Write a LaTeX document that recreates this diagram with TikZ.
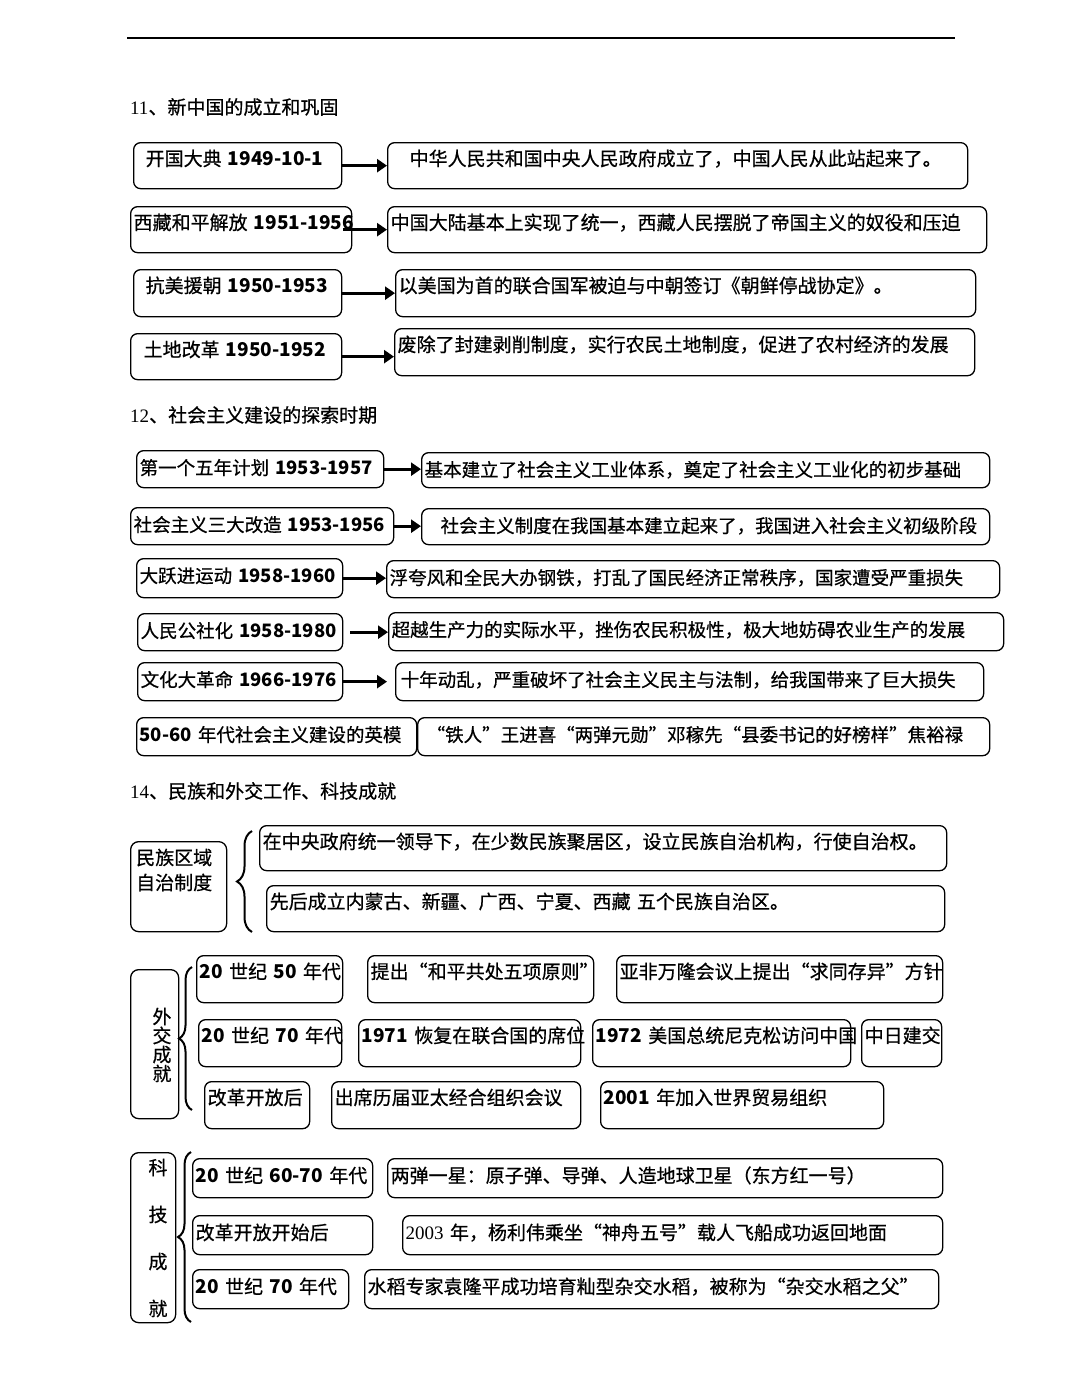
\documentclass[tikz,border=0pt]{standalone}
\usepackage{fontspec}
\setmainfont{Noto Sans CJK SC}[UprightFeatures={FakeBold=0.6}]
\newfontfamily\serifnum{Liberation Serif}
\usetikzlibrary{arrows.meta,decorations.pathreplacing}

\begin{document}
\begin{tikzpicture}[x=1pt,y=-1pt,
box/.style={draw,line width=1.3pt,rounded corners=7pt,anchor=north west,align=left,inner xsep=3pt,inner ysep=0pt,text height=23pt,font=\fontsize{19}{23}\selectfont},
sbox/.style={box,text height=24pt,font=\fontsize{18.5}{22}\selectfont},
sz/.style 2 args={text width=#1pt,text depth=#2pt},
cat/.style={draw,line width=1.3pt,rounded corners=8pt,anchor=north west,inner sep=0pt},
cattext/.style={align=left,inner sep=0pt},
head/.style={anchor=west,inner sep=0pt,font=\fontsize{19}{23}\selectfont},
arr/.style={-{Triangle[length=10pt,width=13pt]},line width=3.3pt},
brc/.style={decorate,decoration={brace,amplitude=#1pt},line width=2pt}
]
\fill[white] (0,0) rectangle (1080,1385);
\useasboundingbox (0,0) rectangle (1080,1385);

\coordinate (rl) at (127,38);
\coordinate (rr) at (955,38);
\draw[line width=1.4pt] (rl) -- (rr);

% 11
\node[head] (h11) at (130,107) {{\serifnum 11}、新中国的成立和巩固};
\node[box,sz={202}{23}] (a1) at (133,142) {\hspace*{9pt}开国大典~\textbf{1949-10-1}};
\node[box,sz={574}{23}] (b1) at (387,142) {\hspace*{19pt}中华人民共和国中央人民政府成立了，中国人民从此站起来了。};
\node[box,sz={215}{23}] (a2) at (130,206) {\mbox{西藏和平解放~\textbf{1951-1956}}};
\node[box,sz={593}{23}] (b2) at (387,206) {中国大陆基本上实现了统一，西藏人民摆脱了帝国主义的奴役和压迫};
\node[box,sz={202}{24}] (a3) at (133,269) {\hspace*{9pt}抗美援朝~\textbf{1950-1953}};
\node[box,sz={574}{24}] (b3) at (395,269) {以美国为首的联合国军被迫与中朝签订《朝鲜停战协定》。};
\node[box,sz={205}{23}] (a4) at (130,333) {\hspace*{10pt}土地改革~\textbf{1950-1952}};
\node[box,sz={574}{24}] (b4) at (394,328) {废除了封建剥削制度，实行农民土地制度，促进了农村经济的发展};
\draw[arr] (a1.east) -- (a1.east -| b1.west);
\draw[arr] ([xshift=-9pt]a2.east) -- (a2.east -| b2.west);
\draw[arr] (a3.east) -- (a3.east -| b3.west);
\draw[arr] (a4.east) -- (a4.east -| b4.west);

% 12
\node[head] (h12) at (130,415) {{\serifnum 12}、社会主义建设的探索时期};
\node[sbox,sz={241}{13}] (c1) at (136,450) {第一个五年计划~\textbf{1953-1957}};
\node[sbox,sz={562}{11}] (d1) at (421,452) {基本建立了社会主义工业体系，奠定了社会主义工业化的初步基础};
\node[sbox,sz={257}{13}] (c2) at (130,507) {\mbox{社会主义三大改造~\textbf{1953-1956}}};
\node[sbox,sz={562}{12}] (d2) at (421,508) {\hspace*{16pt}社会主义制度在我国基本建立起来了，我国进入社会主义初级阶段};
\node[sbox,sz={200}{15}] (c3) at (136,558) {大跃进运动~\textbf{1958-1960}};
\node[sbox,sz={607}{13}] (d3) at (386,560) {浮夸风和全民大办钢铁，打乱了国民经济正常秩序，国家遭受严重损失};
\node[sbox,sz={199}{13}] (c4) at (137,613) {人民公社化~\textbf{1958-1980}};
\node[sbox,sz={609}{14}] (d4) at (388,612) {超越生产力的实际水平，挫伤农民积极性，极大地妨碍农业生产的发展};
\node[sbox,sz={199}{14}] (c5) at (137,662) {文化大革命~\textbf{1966-1976}};
\node[sbox,sz={582}{14}] (d5) at (395,662) {\hspace*{2pt}十年动乱，严重破坏了社会主义民主与法制，给我国带来了巨大损失};
\node[sbox,sz={274}{14}] (c6) at (136,717) {\textbf{50-60}~年代社会主义建设的英模};
\node[sbox,sz={566}{14}] (d6) at (417,717) {\hspace*{6pt}“铁人”王进喜“两弹元勋”邓稼先“县委书记的好榜样”焦裕禄};
\draw[arr] (c1.east) -- (c1.east -| d1.west);
\draw[arr] (c2.east) -- (c2.east -| d2.west);
\draw[arr] (c3.east) -- (c3.east -| d3.west);
\draw[arr] ([xshift=7pt]c4.east) -- (c4.east -| d4.west);
\draw[arr,shorten >=8pt] (c5.east) -- (c5.east -| d5.west);

% 14
\node[head] (h14) at (130,791) {{\serifnum 14}、民族和外交工作、科技成就};
\node[cat,minimum width=96pt,minimum height=90pt] (mz) at (130,841) {};
\node[cattext,anchor=west,font=\fontsize{19}{25}\selectfont] (mzt) at (136,870) {民族区域\\自治制度};
\node[box,sz={681}{22}] (mz1) at (259,825) {在中央政府统一领导下，在少数民族聚居区，设立民族自治机构，行使自治权。};
\node[box,sz={672}{23}] (mz2) at (266,885) {先后成立内蒙古、新疆、广西、宁夏、西藏~五个民族自治区。};
\coordinate (mzb1) at (252,932);
\coordinate (mzb2) at (252,831);
\draw[brc=15] (mzb1) -- (mzb2);

\node[cat,minimum width=48pt,minimum height=149pt] (wj) at (130,969) {};
\node[cattext,align=center,font=\fontsize{19}{19}\selectfont] (wjt) at (162,1045) {外\\交\\成\\就};
\coordinate (wjb1) at (192,1110);
\coordinate (wjb2) at (192,967);
\draw[brc=13] (wjb1) -- (wjb2);
\node[box,sz={140}{24}] (w11) at (196,955) {\textbf{20}~世纪~\textbf{50}~年代};
\node[box,sz={220}{24}] (w12) at (367,955) {提出“和平共处五项原则”};
\node[box,sz={320}{24}] (w13) at (616,955) {亚非万隆会议上提出“求同存异”方针};
\node[box,sz={137}{24}] (w21) at (198,1019) {\textbf{20}~世纪~\textbf{70}~年代};
\node[box,sz={216}{24}] (w22) at (358,1019) {\textbf{1971}~恢复在联合国的席位};
\node[box,sz={252}{24}] (w23) at (592,1019) {\textbf{1972}~美国总统尼克松访问中国};
\node[box,sz={74}{24}] (w24) at (861,1019) {中日建交};
\node[box,sz={99}{24}] (w31) at (204,1081) {改革开放后};
\node[box,sz={243}{24}] (w32) at (331,1081) {出席历届亚太经合组织会议};
\node[box,sz={277}{24}] (w33) at (600,1081) {\textbf{2001}~年加入世界贸易组织};

\node[cat,minimum width=45pt,minimum height=170pt] (kj) at (130,1152) {};
\node[cattext,align=center,font=\fontsize{19}{47}\selectfont] (kjt) at (158,1238) {科\\技\\成\\就};
\coordinate (kjb1) at (191,1322);
\coordinate (kjb2) at (191,1152);
\draw[brc=13] (kjb1) -- (kjb2);
\node[box,sz={174}{15},text height=24pt] (k11) at (192,1158) {\textbf{20}~世纪~\textbf{60-70}~年代};
\node[box,sz={549}{15},text height=24pt] (k12) at (387,1158) {两弹一星：原子弹、导弹、人造地球卫星（东方红一号）};
\node[box,sz={174}{15},text height=24pt] (k21) at (192,1215) {改革开放开始后};
\node[box,sz={534}{15},text height=24pt] (k22) at (402,1215) {{\serifnum 2003}~年，杨利伟乘坐“神舟五号”载人飞船成功返回地面};
\node[box,sz={150}{15},text height=24pt] (k31) at (192,1269) {\textbf{20}~世纪~\textbf{70}~年代};
\node[box,sz={568}{15},text height=24pt] (k32) at (364,1269) {水稻专家袁隆平成功培育籼型杂交水稻，被称为“杂交水稻之父”};
\end{tikzpicture}
\end{document}
